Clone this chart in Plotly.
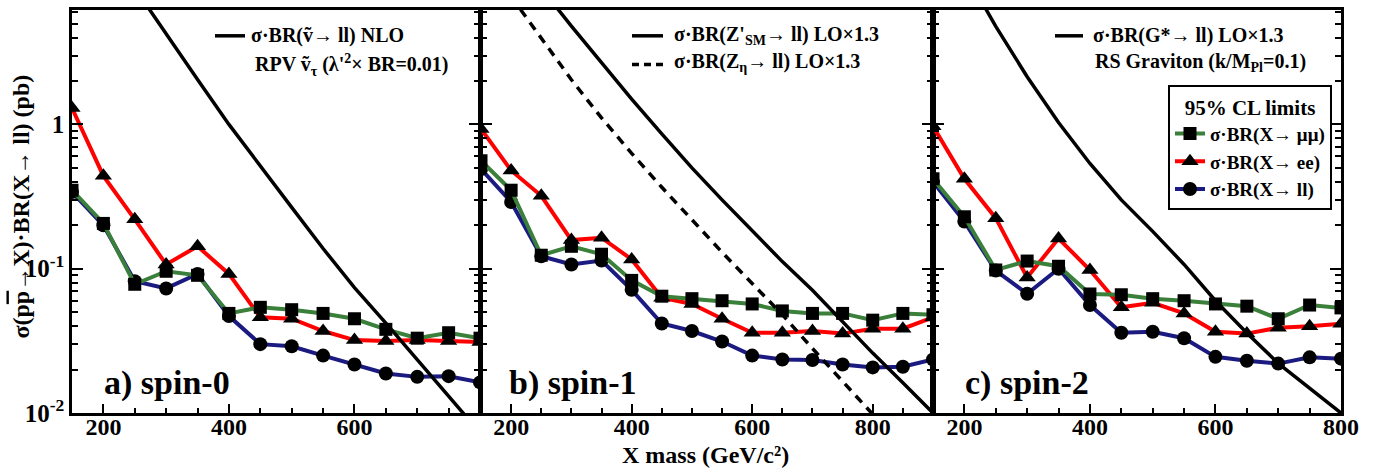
import plotly.graph_objects as go

# ---------------- data ----------------
mass_a = [150, 200, 250, 300, 350, 400, 450, 500, 550, 600, 650, 700, 750, 800]
mass_b = [150, 200, 250, 300, 350, 400, 450, 500, 550, 600, 650, 700, 750, 800, 850, 900]
mass_c = [150, 200, 250, 300, 350, 400, 450, 500, 550, 600, 650, 700, 750, 800]

mumu_a = [0.35, 0.206, 0.078, 0.096, 0.090, 0.049, 0.054, 0.052, 0.049, 0.045, 0.038, 0.033, 0.036, 0.033]
ee_a = [1.3, 0.44, 0.22, 0.107, 0.143, 0.092, 0.046, 0.045, 0.037, 0.032, 0.0316, 0.032, 0.0316, 0.031]
ll_a = [0.34, 0.20, 0.082, 0.073, 0.092, 0.047, 0.030, 0.029, 0.025, 0.0217, 0.0188, 0.0178, 0.018, 0.0163]

mumu_b = [0.56, 0.35, 0.124, 0.143, 0.126, 0.083, 0.0645, 0.062, 0.060, 0.057, 0.051, 0.049, 0.049, 0.044, 0.049, 0.048]
ee_b = [0.93, 0.48, 0.32, 0.158, 0.164, 0.116, 0.063, 0.057, 0.045, 0.036, 0.036, 0.037, 0.0355, 0.0384, 0.0384, 0.046]
ll_b = [0.49, 0.29, 0.122, 0.107, 0.114, 0.0714, 0.0417, 0.037, 0.0313, 0.025, 0.0235, 0.0233, 0.0217, 0.0207, 0.0209, 0.0235]

mumu_c = [0.42, 0.229, 0.098, 0.113, 0.104, 0.0668, 0.066, 0.062, 0.060, 0.057, 0.055, 0.045, 0.056, 0.0535]
ee_c = [0.97, 0.42, 0.224, 0.087, 0.162, 0.098, 0.054, 0.058, 0.049, 0.0366, 0.0355, 0.039, 0.040, 0.0415]
ll_c = [0.40, 0.212, 0.097, 0.067, 0.100, 0.056, 0.036, 0.0366, 0.033, 0.0245, 0.023, 0.022, 0.0243, 0.0238]

# theory curves
snu_mass = [250, 300, 350, 400, 450, 500, 550, 600, 650, 700, 750, 800]
snu_xs = [8.8, 4.2, 2.05, 1.0, 0.51, 0.266, 0.138, 0.074, 0.042, 0.0234, 0.0132, 0.0073]

zsm_mass = [250, 300, 350, 400, 450, 500, 550, 600, 650, 700, 750, 800, 850, 900]
zsm_xs = [8.8, 4.8, 2.68, 1.50, 0.86, 0.50, 0.30, 0.183, 0.112, 0.071, 0.043, 0.026, 0.0162, 0.0100]

zeta_mass = [200, 250, 300, 350, 400, 450, 500, 550, 600, 650, 700, 750, 800]
zeta_xs = [7.7, 3.93, 2.04, 1.11, 0.63, 0.367, 0.217, 0.13, 0.079, 0.048, 0.028, 0.0166, 0.0098]

grav_mass = [200, 250, 300, 350, 400, 450, 500, 550, 600, 650, 700, 750, 800]
grav_xs = [11.5, 4.78, 2.14, 1.03, 0.536, 0.30, 0.1815, 0.107, 0.060, 0.0359, 0.0221, 0.0148, 0.0100]

x_ticks_a = [200, 400, 600]
x_ticks_bc = [200, 400, 600, 800]
y_ticks = [0.01, 0.1, 1]
y_ticklabels = ["10<sup>-2</sup>", "10<sup>-1</sup>", "1"]
y_minor = [0.02, 0.03, 0.04, 0.05, 0.06, 0.07, 0.08, 0.09,
           0.2, 0.3, 0.4, 0.5, 0.6, 0.7, 0.8, 0.9, 2, 3, 4, 5, 6]

# ---------------- style ----------------
W, H = 1380, 470
L, R, T, B = 72, 39, 7, 57
PW, PH = W - L - R, H - T - B
FONT = "Liberation Serif, Times New Roman, serif"
GREEN, RED, BLUE = "#3a7f3a", "#ff0000", "#1a1a80"


def px(xp):
    return (xp - L) / PW


def py(yp):
    return (H - B - yp) / PH


fig = go.Figure()

panels = [
    ("x", "y", mass_a, mumu_a, ee_a, ll_a, False),
    ("x2", "y2", mass_b, mumu_b, ee_b, ll_b, False),
    ("x3", "y3", mass_c, mumu_c, ee_c, ll_c, True),
]

for xa, ya, m, mm, ee, ll, leg in panels:
    fig.add_trace(go.Scatter(x=m, y=ll, xaxis=xa, yaxis=ya, mode="lines+markers",
                             name="<b>σ·BR(X→ ll)</b>", showlegend=leg, legendrank=3,
                             line=dict(color=BLUE, width=4),
                             marker=dict(symbol="circle", size=14, color="black")))
    fig.add_trace(go.Scatter(x=m, y=ee, xaxis=xa, yaxis=ya, mode="lines+markers",
                             name="<b>σ·BR(X→ ee)</b>", showlegend=leg, legendrank=2,
                             line=dict(color=RED, width=4),
                             marker=dict(symbol="triangle-up", size=15, color="black")))
    fig.add_trace(go.Scatter(x=m, y=mm, xaxis=xa, yaxis=ya, mode="lines+markers",
                             name="<b>σ·BR(X→ μμ)</b>", showlegend=leg, legendrank=1,
                             line=dict(color=GREEN, width=4),
                             marker=dict(symbol="square", size=13, color="black")))

fig.add_trace(go.Scatter(x=snu_mass, y=snu_xs, xaxis="x", yaxis="y", mode="lines",
                         showlegend=False, line=dict(color="black", width=3.5)))
fig.add_trace(go.Scatter(x=zsm_mass, y=zsm_xs, xaxis="x2", yaxis="y2", mode="lines",
                         showlegend=False, line=dict(color="black", width=3.5)))
fig.add_trace(go.Scatter(x=zeta_mass, y=zeta_xs, xaxis="x2", yaxis="y2", mode="lines",
                         showlegend=False, line=dict(color="black", width=3.5, dash="9px,7px")))
fig.add_trace(go.Scatter(x=grav_mass, y=grav_xs, xaxis="x3", yaxis="y3", mode="lines",
                         showlegend=False, line=dict(color="black", width=3.5)))

tickfont = dict(family=FONT, size=24, color="black", weight="bold")

xdoms = [[0, px(480)], [px(481), px(933)], [px(933), 1]]
xranges = [[150, 800], [150, 900], [150, 800]]
xticks = [x_ticks_a, x_ticks_bc, x_ticks_bc]
names = ["", "2", "3"]
for i in range(3):
    fig.layout["xaxis" + names[i]] = dict(
        domain=xdoms[i], range=xranges[i], anchor="y" + names[i],
        showline=True, linecolor="black", linewidth=2.5, mirror=True,
        ticks="inside", ticklen=9, tickwidth=1.5, tickcolor="black",
        tickvals=xticks[i], ticktext=["<b>%d</b>" % v for v in xticks[i]],
        tickfont=tickfont, showgrid=False, zeroline=False,
        ticklabelposition="outside", ticklabelstandoff=-10,
        minor=dict(ticks="inside", ticklen=5, dtick=50, tick0=0, tickcolor="black", tickwidth=1.5),
    )
    fig.layout["yaxis" + names[i]] = dict(
        domain=[0, 1], type="log", range=[-2, 0.793], anchor="x" + names[i],
        showline=True, linecolor="black", linewidth=2.5, mirror="allticks",
        ticks="inside", ticklen=11, tickwidth=1.5, tickcolor="black",
        tickvals=y_ticks, ticktext=["<b>%s</b>" % t for t in y_ticklabels],
        showticklabels=(i == 0),
        tickfont=dict(family=FONT, size=25, color="black", weight="bold"),
        showgrid=False, zeroline=False,
        minor=dict(ticks="inside", ticklen=6, tickvals=y_minor, tickcolor="black", tickwidth=1.5),
    )

ann = []


def add_text(xp, yp, s, size=20, xanchor="left", angle=0):
    ann.append(dict(x=px(xp), y=py(yp), xref="paper", yref="paper", text="<b>" + s + "</b>",
                    showarrow=False, xanchor=xanchor, yanchor="middle", textangle=angle,
                    font=dict(family=FONT, size=size, color="black", weight="bold")))


add_text(249, 33, "σ·BR(ṽ→ ll) NLO")
add_text(253, 62, "RPV ṽ<sub>τ</sub> (λ'<sup>2</sup>× BR=0.01)")
add_text(672, 33, "σ·BR(Z'<sub>SM</sub>→ ll) LO×1.3")
add_text(672, 60, "σ·BR(Z<sub>η</sub>→ ll) LO×1.3")
add_text(1091, 33, "σ·BR(G*→ ll) LO×1.3")
add_text(1093, 60, "RS Graviton (k/M<sub>Pl</sub>=0.1)")

add_text(167, 383, "a) spin-0", size=34, xanchor="center")
add_text(573, 383, "b) spin-1", size=34, xanchor="center")
add_text(1027, 383, "c) spin-2", size=34, xanchor="center")

add_text(705, 455, "X mass (GeV/c²)", size=24, xanchor="center")
add_text(21, 205, "σ(p<span style='text-decoration:overline'>p</span>→X)·BR(X→ ll) (pb)",
         size=24, xanchor="center", angle=-90)

shapes = [
    dict(type="line", xref="paper", yref="paper", x0=px(215), x1=px(245), y0=py(33), y1=py(33),
         line=dict(color="black", width=3.5)),
    dict(type="line", xref="paper", yref="paper", x0=px(632), x1=px(663), y0=py(33), y1=py(33),
         line=dict(color="black", width=3.5)),
    dict(type="line", xref="paper", yref="paper", x0=px(632), x1=px(663), y0=py(62), y1=py(62),
         line=dict(color="black", width=3.5, dash="7px,5px")),
    dict(type="line", xref="paper", yref="paper", x0=px(1055), x1=px(1083), y0=py(33), y1=py(33),
         line=dict(color="black", width=3.5)),
]

fig.update_layout(
    width=W, height=H, margin=dict(l=L, r=R, t=T, b=B),
    paper_bgcolor="white", plot_bgcolor="white",
    annotations=ann, shapes=shapes,
    legend=dict(x=px(1332), y=py(83), xanchor="right", yanchor="top",
                bordercolor="black", borderwidth=2, bgcolor="white",
                title=dict(text="<b>95% CL limits</b>", side="top center",
                           font=dict(family=FONT, size=21, color="black", weight="bold")),
                font=dict(family=FONT, size=19, color="black", weight="bold"),
                itemwidth=30, tracegroupgap=0),
    showlegend=True,
)

fig.write_html("out.html", config={"displayModeBar": False},
               post_script="document.body.style.margin='0';document.body.style.padding='0';")
